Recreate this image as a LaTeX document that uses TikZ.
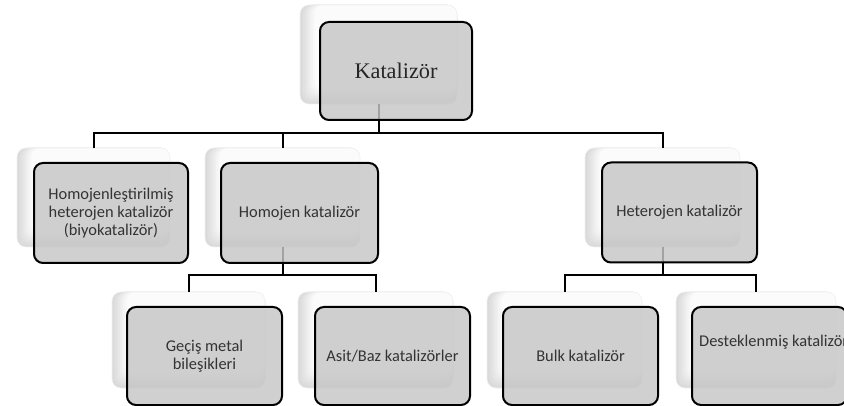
\documentclass[tikz,border=0pt]{standalone}
\usepackage{fontspec}
\setmainfont{Carlito}
\newfontfamily\rootfont{Liberation Serif}
\definecolor{frontfill}{HTML}{C6C6C6}
\definecolor{txt}{HTML}{333333}
\begin{document}
\begin{tikzpicture}[x=1pt,y=-1pt,
  shbox/.style={rectangle, rounded corners=9pt, fill=white, draw=gray!12, line width=0.6pt,
    path picture={
      \foreach \i in {0,...,9}{
        \pgfmathtruncatemacro\c{30-3*\i}
        \fill[gray!\c] ([xshift=\i*1.6pt]path picture bounding box.north west)
           rectangle ([yshift=\i*1.6pt]path picture bounding box.south east);
      }
    }},
  frontbox/.style={rectangle, rounded corners=9pt, draw=black, line width=2pt,
    fill=frontfill, fill opacity=0.82, text opacity=1, text=txt,
    font=\fontsize{16.4}{18}\selectfont, align=center},
  conn/.style={draw=black, line width=2pt}
]
\useasboundingbox (0,0) rectangle (844,406);
\clip (0,0) rectangle (844,406);
\coordinate (h1) at (0,133);
\coordinate (h2) at (0,275);

% background (shadow) boxes
\node[shbox, minimum width=157pt, minimum height=99pt] (sK) at (378.5,54.5) {};
\node[shbox, minimum width=153pt, minimum height=99pt] (sA) at (93.5,197.5) {};
\node[shbox, minimum width=155pt, minimum height=99pt] (sB) at (282.5,197.5) {};
\node[shbox, minimum width=155pt, minimum height=99pt] (sC) at (662.5,197.5) {};
\node[shbox, minimum width=153pt, minimum height=96pt] (sD) at (188.5,340) {};
\node[shbox, minimum width=155pt, minimum height=96pt] (sE) at (375.5,340) {};
\node[shbox, minimum width=155pt, minimum height=96pt] (sF) at (564.5,340) {};
\node[shbox, minimum width=160pt, minimum height=96pt] (sG) at (756,340) {};

% connectors
\draw[conn] (sK.south) -- (sK.south |- h1);
\draw[conn] (sA.north) |- (sC.north |- h1) -- (sC.north);
\draw[conn] (sB.north) -- (sB.north |- h1);
\draw[conn] (sB.south) -- (sB.south |- h2);
\draw[conn] (sD.north) |- (sE.north |- h2) -- (sE.north);
\draw[conn] (sC.south) -- (sC.south |- h2);
\draw[conn] (sF.north) |- (sG.north |- h2) -- (sG.north);

% front boxes
\node[frontbox, minimum width=152pt, minimum height=98pt, font=\rootfont\fontsize{22.3}{26}\selectfont, text=black!85] (K) at (396,71) {Katalizör};
\node[frontbox, minimum width=154pt, minimum height=100pt] (A) at (111,213) {Homojenleştirilmiş\\heterojen katalizör\\(biyokatalizör)};
\node[frontbox, minimum width=157pt, minimum height=100pt] (B) at (299.5,213) {Homojen katalizör};
\node[frontbox, minimum width=155pt, minimum height=100pt] (C) at (679.5,212.5) {Heterojen katalizör};
\node[frontbox, minimum width=155pt, minimum height=98pt] (D) at (204.5,356) {Geçiş metal\\bileşikleri};
\node[frontbox, minimum width=155pt, minimum height=98pt] (E) at (392.5,356) {Asit/Baz katalizörler};
\node[frontbox, minimum width=155pt, minimum height=98pt] (F) at (580.5,356) {Bulk katalizör};
\node[frontbox, minimum width=155pt, minimum height=98pt] (G) at (769.5,356) {};
\node[anchor=west, text=txt, font=\fontsize{16.4}{18}\selectfont, inner sep=0pt] (Gt) at (699,342) {Desteklenmiş katalizör};
\end{tikzpicture}
\end{document}
